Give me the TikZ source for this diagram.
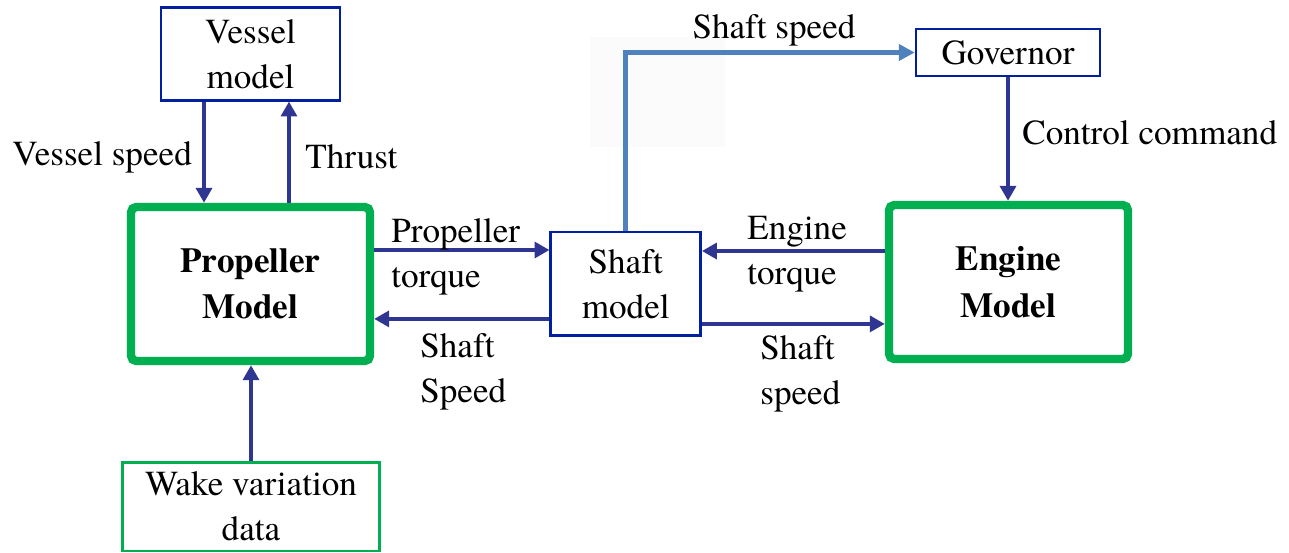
\documentclass[tikz,border=0pt]{standalone}
\usepackage{fontspec}
\setmainfont{texgyretermes}[Extension=.otf, UprightFont=*-regular, BoldFont=*-bold, ItalicFont=*-italic, BoldItalicFont=*-bolditalic]
\usetikzlibrary{arrows.meta,calc}
\definecolor{arrblue}{RGB}{46,54,146}
\definecolor{boxblue}{RGB}{0,32,160}
\definecolor{boxgreen}{RGB}{0,176,80}
\definecolor{lightarr}{RGB}{79,129,189}
\definecolor{faint}{RGB}{251,251,251}
\tikzset{
  txt/.style={font=\fontsize{20}{25.5}\selectfont, inner sep=0pt, align=left},
  bluebox/.style={draw=boxblue, line width=1.4pt, align=center, inner sep=0pt, font=\fontsize{20}{25.5}\selectfont},
  greenbig/.style={draw=boxgreen, line width=4.8pt, rounded corners=3pt, align=center, inner sep=0pt, font=\fontsize{20}{26.5}\selectfont\bfseries, minimum width=4.78cm, minimum height=3.08cm},
  greenthin/.style={draw=boxgreen, line width=1.7pt, align=center, inner sep=0pt, font=\fontsize{20}{25.5}\selectfont},
  arr/.style={draw=arrblue, line width=2.4pt, -{Triangle[length=8.5pt,width=9pt]}},
  larr/.style={draw=lightarr, line width=2.6pt, -{Triangle[length=9pt,width=9pt]}},
}
\begin{document}
\begin{tikzpicture}[x=0.02cm,y=-0.02cm]
\useasboundingbox (0,0) rectangle (1289,552);
\fill[faint] (590,37) rectangle (725,147);
% boxes
\node[bluebox, minimum width=3.58cm, minimum height=1.86cm] (vessel) at (250.5,53.8) {Vessel\\model};
\node[greenbig] (prop) at (250.5,284) {Propeller\\Model};
\node[greenthin, minimum width=5.16cm, minimum height=1.78cm] (wake) at (251,506.5) {Wake variation\\data};
\node[bluebox, minimum width=3.0cm, minimum height=2.07cm] (shaft) at (625.7,283.9) {Shaft\\model};
\node[greenbig] (engine) at (1008.5,282) {Engine\\Model};
\node[bluebox, minimum width=3.68cm, minimum height=0.94cm] (gov) at (1008,52.5) {Governor};
% connectors
\draw[arr] ([xshift=-0.93cm]vessel.south) coordinate (vs) -- (vs |- prop.north);
\draw[arr] ([xshift=0.77cm]prop.north) coordinate (th) -- (th |- vessel.south);
\draw[arr] ([yshift=0.68cm]prop.east) coordinate (pt) -- (pt -| shaft.west);
\draw[arr] ([yshift=-0.70cm]shaft.west) coordinate (ss) -- (ss -| prop.east);
\draw[arr] ([yshift=0.62cm]engine.west) coordinate (et) -- (et -| shaft.east);
\draw[arr] ([yshift=-0.80cm]shaft.east) coordinate (se) -- (se -| engine.west);
\draw[arr] (gov.south) -- (gov.south |- engine.north);
\draw[arr] (wake.north) -- (wake.north |- prop.south);
\draw[larr] (shaft.north) |- (gov.west);
% labels
\node[txt, anchor=west] (lvs) at (12,157) {Vessel speed};
\node[txt, anchor=west] (lth) at (305,157) {Thrust};
\node[txt, anchor=west] (lpt) at (391,257) {Propeller\\torque};
\node[txt, anchor=west] (lss) at (420,372) {Shaft\\Speed};
\node[txt, anchor=west] (let) at (747,254) {Engine\\torque};
\node[txt, anchor=west] (lse) at (760,374) {Shaft\\speed};
\node[txt, anchor=west] (lcc) at (1022,133) {Control command};
\node[txt] (lsp) at (774,30) {Shaft speed};
\end{tikzpicture}
\end{document}
